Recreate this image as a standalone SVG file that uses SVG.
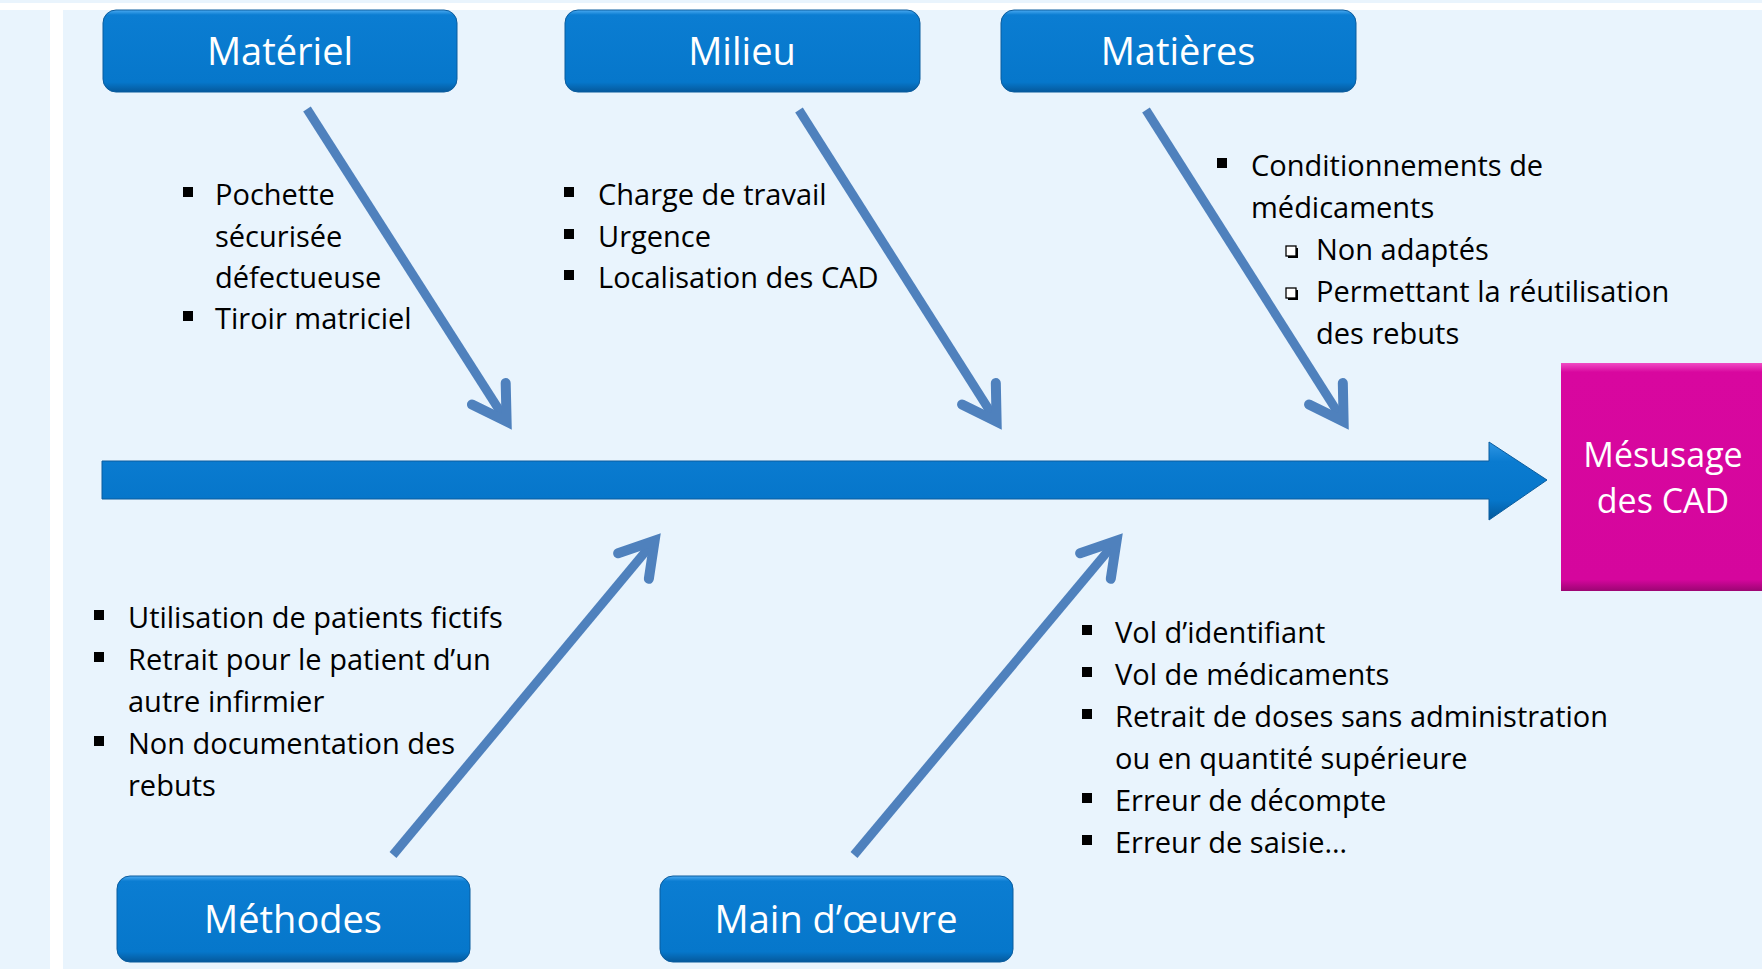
<svg xmlns="http://www.w3.org/2000/svg" width="1762" height="969" viewBox="0 0 1762 969">
<defs>
<style>
.bg{fill:#e9f4fd}
.gap{fill:#ffffff}
.box{fill:url(#boxG);stroke:#0a5c9e;stroke-width:1}
.ht{font-family:"Open Sans","Liberation Sans",sans-serif;font-size:38px;fill:#ffffff;text-anchor:middle}
.pt{font-family:"Open Sans","Liberation Sans",sans-serif;font-size:34px;fill:#ffffff;text-anchor:middle}
.t{font-family:"Open Sans","Liberation Sans",sans-serif;font-size:29px;fill:#000000}
.bl{fill:#000000}
.sb{fill:#ffffff;stroke:#000000;stroke-width:1.3}
.sbs{fill:#000000}
.con{fill:none;stroke:#4f81bd;stroke-width:9;stroke-linecap:butt;marker-end:url(#ah)}
</style>
<linearGradient id="boxG" x1="0" y1="0" x2="0" y2="1">
<stop offset="0" stop-color="#4aaaf2"/>
<stop offset="0.06" stop-color="#0b7dd2"/>
<stop offset="0.88" stop-color="#0677cb"/>
<stop offset="1" stop-color="#05599c"/>
</linearGradient>
<linearGradient id="shaftG" x1="0" y1="0" x2="0" y2="1">
<stop offset="0" stop-color="#2f96e4"/>
<stop offset="0.25" stop-color="#0a7bd0"/>
<stop offset="0.75" stop-color="#0676ca"/>
<stop offset="1" stop-color="#04589a"/>
</linearGradient>
<linearGradient id="pinkG" x1="0" y1="0" x2="0" y2="1">
<stop offset="0" stop-color="#f04cc4"/>
<stop offset="0.04" stop-color="#d8079f"/>
<stop offset="0.95" stop-color="#d5069d"/>
<stop offset="1" stop-color="#9c0573"/>
</linearGradient>
<marker id="ah" markerUnits="userSpaceOnUse" orient="auto" overflow="visible" refX="0" refY="0" markerWidth="1" markerHeight="1">
<path d="M-33,-20 L0,0 L-33,20" fill="none" stroke="#4f81bd" stroke-width="10" stroke-linecap="round" stroke-linejoin="miter"/>
</marker>
</defs>

<rect class="bg" x="0" y="0" width="1762" height="969"/>
<rect class="gap" x="0" y="3" width="1762" height="7"/>
<rect class="gap" x="50" y="3" width="13" height="966"/>

<g id="connectors">
<polygon id="spine" points="102,461 1489,461 1489,442 1547,480 1489,520 1489,499 102,499" fill="url(#shaftG)" stroke="#0a5c9e" stroke-width="1"/>
<line class="con" x1="307" y1="109" x2="506.6" y2="421.6"/>
<line class="con" x1="799" y1="110" x2="996.6" y2="421.6"/>
<line class="con" x1="1146" y1="110" x2="1343.6" y2="421.6"/>
<line class="con" x1="393" y1="855" x2="654.6" y2="540.7"/>
<line class="con" x1="854" y1="855" x2="1116.6" y2="540.7"/>
</g>

<g id="materiel">
<rect class="box" x="103" y="10" width="354" height="82" rx="13"/>
<text class="ht" x="280" y="65">Matériel</text>
</g>
<g id="milieu">
<rect class="box" x="565" y="10" width="355" height="82" rx="13"/>
<text class="ht" x="742" y="65">Milieu</text>
</g>
<g id="matieres">
<rect class="box" x="1001" y="10" width="355" height="82" rx="13"/>
<text class="ht" x="1178" y="65">Matières</text>
</g>
<g id="methodes">
<rect class="box" x="117" y="876" width="353" height="86" rx="13"/>
<text class="ht" x="293" y="933">Méthodes</text>
</g>
<g id="main-oeuvre">
<rect class="box" x="660" y="876" width="353" height="86" rx="13"/>
<text class="ht" x="836" y="933">Main d’œuvre</text>
</g>
<g id="mesusage">
<rect x="1561" y="363" width="201" height="228" fill="url(#pinkG)"/>
<text class="pt" x="1663" y="467">Mésusage</text>
<text class="pt" x="1663" y="513">des CAD</text>
</g>

<g id="list-materiel">
<rect class="bl" x="183" y="187" width="10" height="10"/>
<text class="t" x="215" y="205">Pochette</text>
<text class="t" x="215" y="247">sécurisée</text>
<text class="t" x="215" y="288">défectueuse</text>
<rect class="bl" x="183" y="311" width="10" height="10"/>
<text class="t" x="215" y="329">Tiroir matriciel</text>
</g>

<g id="list-milieu">
<rect class="bl" x="564" y="187" width="10" height="10"/>
<text class="t" x="598" y="205">Charge de travail</text>
<rect class="bl" x="564" y="229" width="10" height="10"/>
<text class="t" x="598" y="247">Urgence</text>
<rect class="bl" x="564" y="270" width="10" height="10"/>
<text class="t" x="598" y="288">Localisation des CAD</text>
</g>

<g id="list-matieres">
<rect class="bl" x="1217" y="158" width="10" height="10"/>
<text class="t" x="1251" y="176">Conditionnements de</text>
<text class="t" x="1251" y="218">médicaments</text>
<rect class="sbs" x="1288" y="248" width="10" height="10"/>
<rect class="sb" x="1286" y="246" width="10" height="10"/>
<text class="t" x="1316" y="260">Non adaptés</text>
<rect class="sbs" x="1288" y="290" width="10" height="10"/>
<rect class="sb" x="1286" y="288" width="10" height="10"/>
<text class="t" x="1316" y="302">Permettant la réutilisation</text>
<text class="t" x="1316" y="344">des rebuts</text>
</g>

<g id="list-methodes">
<rect class="bl" x="94" y="610" width="10" height="10"/>
<text class="t" x="128" y="628">Utilisation de patients fictifs</text>
<rect class="bl" x="94" y="652" width="10" height="10"/>
<text class="t" x="128" y="670">Retrait pour le patient d’un</text>
<text class="t" x="128" y="712">autre infirmier</text>
<rect class="bl" x="94" y="736" width="10" height="10"/>
<text class="t" x="128" y="754">Non documentation des</text>
<text class="t" x="128" y="796">rebuts</text>
</g>

<g id="list-main-oeuvre">
<rect class="bl" x="1082" y="625" width="10" height="10"/>
<text class="t" x="1115" y="643">Vol d’identifiant</text>
<rect class="bl" x="1082" y="667" width="10" height="10"/>
<text class="t" x="1115" y="685">Vol de médicaments</text>
<rect class="bl" x="1082" y="709" width="10" height="10"/>
<text class="t" x="1115" y="727">Retrait de doses sans administration</text>
<text class="t" x="1115" y="769">ou en quantité supérieure</text>
<rect class="bl" x="1082" y="793" width="10" height="10"/>
<text class="t" x="1115" y="811">Erreur de décompte</text>
<rect class="bl" x="1082" y="835" width="10" height="10"/>
<text class="t" x="1115" y="853">Erreur de saisie…</text>
</g>
</svg>
